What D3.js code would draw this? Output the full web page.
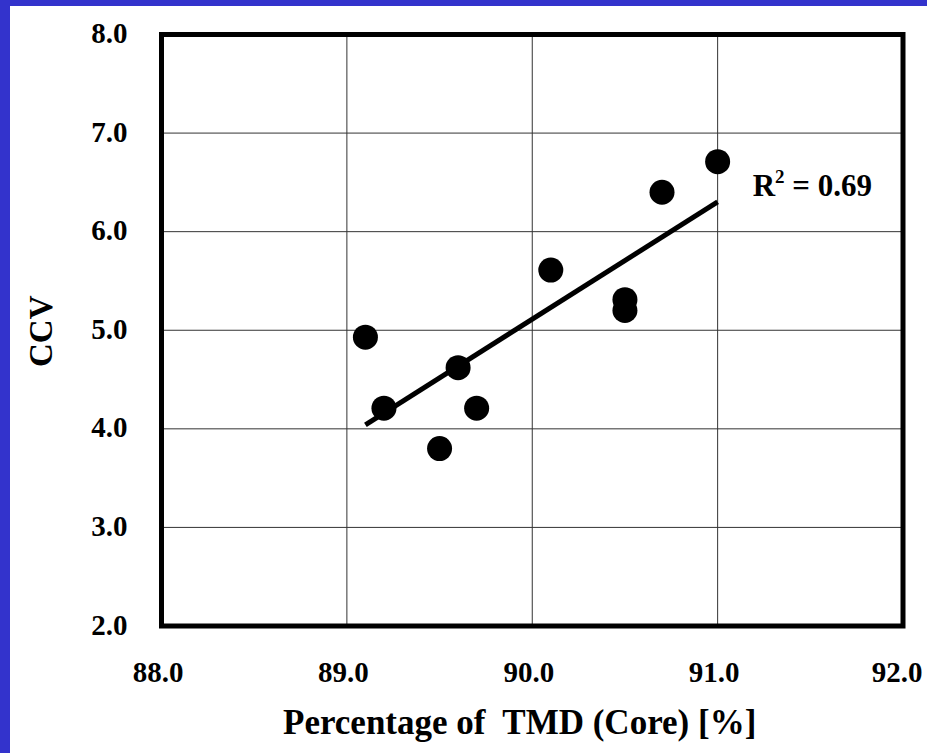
<!DOCTYPE html>
<html>
<head>
<meta charset="utf-8">
<script src="https://cdn.jsdelivr.net/npm/d3@7"></script>
<style>
  html, body { margin: 0; padding: 0; background: #3333cc; }
  #chart { position: absolute; left: 10px; top: 6px; }
  svg { display: block; }
</style>
</head>
<body>
<div id="chart"></div>
<script>
// data
const tmd = [89.1, 89.2, 89.5, 89.6, 89.7, 90.1, 90.5, 90.5, 90.7, 91.0];
const ccv = [4.93, 4.21, 3.80, 4.62, 4.21, 5.61, 5.31, 5.20, 6.40, 6.71];
const xTicks = [88, 89, 90, 91, 92];
const yTicks = [2, 3, 4, 5, 6, 7, 8];
const r2Label = "0.69";

const FONT = "'Liberation Serif', 'Times New Roman', serif";
const W = 917, H = 747;
// offsets are relative to the white panel (page offset 10,6)
const margin = {top: 28.5, right: 24, bottom: 127, left: 151.5};
const width = W - margin.left - margin.right,
      height = H - margin.top - margin.bottom;

const svg = d3.select("#chart").append("svg")
    .attr("width", W)
    .attr("height", H)
    .style("background", "#fff")
  .append("g")
    .attr("transform", "translate(" + margin.left + "," + margin.top + ")");

const x = d3.scaleLinear().domain([88, 92]).range([0, width]);
const y = d3.scaleLinear().domain([2, 8]).range([height, 0]);

//*** grid ***//
svg.append("g")
  .selectAll("line")
  .data(xTicks.slice(1, -1))
  .enter().append("line")
    .attr("x1", d => x(d)).attr("x2", d => x(d))
    .attr("y1", 0).attr("y2", height)
    .attr("stroke", "#333").attr("stroke-width", 1);

svg.append("g")
  .selectAll("line")
  .data(yTicks.slice(1, -1))
  .enter().append("line")
    .attr("x1", 0).attr("x2", width)
    .attr("y1", d => y(d)).attr("y2", d => y(d))
    .attr("stroke", "#333").attr("stroke-width", 1);

//*** axes (labels only) ***//
const axX = svg.append("g")
    .attr("transform", "translate(0," + height + ")")
    .call(d3.axisBottom(x).tickValues(xTicks).tickFormat(d3.format(".1f")).tickSize(0).tickPadding(0));
axX.select(".domain").remove();
axX.selectAll("text")
    .attr("font-family", FONT)
    .attr("font-weight", "bold")
    .attr("font-size", 29)
    .attr("fill", "#000")
    .attr("dy", 0)
    .attr("x", -4)
    .attr("y", 56);
// last label is pushed in so it stays inside the panel
axX.selectAll(".tick").filter(d => d === xTicks[xTicks.length - 1]).select("text")
    .attr("text-anchor", "end")
    .attr("x", 19);

const axY = svg.append("g")
    .call(d3.axisLeft(y).tickValues(yTicks).tickFormat(d3.format(".1f")).tickSize(0).tickPadding(0));
axY.select(".domain").remove();
axY.selectAll("text")
    .attr("font-family", FONT)
    .attr("font-weight", "bold")
    .attr("font-size", 29)
    .attr("fill", "#000")
    .attr("dy", 0)
    .attr("x", -34)
    .attr("y", 8);

//*** frame ***//
svg.append("rect")
    .attr("width", width)
    .attr("height", height)
    .attr("fill", "none")
    .attr("stroke", "#000")
    .attr("stroke-width", 5);

//*** trend line (least squares) ***//
const mx = d3.mean(tmd), my = d3.mean(ccv);
const sxy = d3.sum(tmd, (d, i) => (d - mx) * (ccv[i] - my));
const sxx = d3.sum(tmd, d => (d - mx) * (d - mx));
const slope = sxy / sxx, icpt = my - slope * mx;
const ext = d3.extent(tmd);

svg.append("path")
    .datum(ext.map(d => [d, icpt + slope * d]))
    .attr("fill", "none")
    .attr("stroke", "#000")
    .attr("stroke-width", 5)
    .attr("d", d3.line().x(d => x(d[0])).y(d => y(d[1])));

//*** points ***//
svg.selectAll("circle")
    .data(tmd)
    .enter().append("circle")
    .attr("cx", d => x(d))
    .attr("cy", (d, i) => y(ccv[i]))
    .attr("r", 12.5)
    .attr("fill", "#000");

//*** R² label ***//
const rt = svg.append("text")
    .attr("x", x(91) + 35)
    .attr("y", y(6) - 36)
    .attr("font-family", FONT)
    .attr("font-weight", "bold")
    .attr("font-size", 31);
rt.append("tspan").text("R");
rt.append("tspan").attr("font-size", 19).attr("dy", -13).text("2");
rt.append("tspan").attr("dy", 13).text(" = " + r2Label);

//*** titles ***//
svg.append("text")
    .attr("x", 121.5)
    .attr("y", height + 108)
    .attr("font-family", FONT)
    .attr("font-weight", "bold")
    .attr("font-size", 35)
    .style("white-space", "pre")
    .text("Percentage of  TMD (Core) [%]");

svg.append("text")
    .attr("transform", "translate(" + (-109.5) + "," + (y(5) + 1) + ") rotate(-90)")
    .attr("text-anchor", "middle")
    .attr("font-family", FONT)
    .attr("font-weight", "bold")
    .attr("font-size", 33)
    .text("CCV");
</script>
</body>
</html>
